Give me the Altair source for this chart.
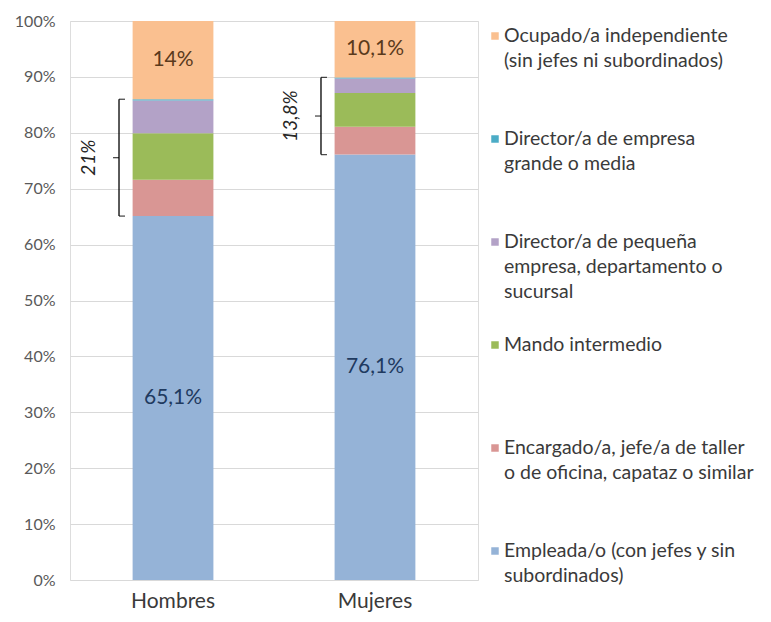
import altair as alt
import pandas as pd

FONT = "Lato"

sexos = ["Hombres", "Mujeres"]
series = [
    "Empleada/o (con jefes y sin subordinados)",
    "Encargado/a, jefe/a de taller o de oficina, capataz o similar",
    "Mando intermedio",
    "Director/a de pequeña empresa, departamento o sucursal",
    "Director/a de empresa grande o media",
    "Ocupado/a independiente (sin jefes ni subordinados)",
]
legend_text = [
    "Empleada/o (con jefes y sin\nsubordinados)",
    "Encargado/a, jefe/a de taller\no de oficina, capataz o similar",
    "Mando intermedio",
    "Director/a de pequeña\nempresa, departamento o\nsucursal",
    "Director/a de empresa\ngrande o media",
    "Ocupado/a independiente\n(sin jefes ni subordinados)",
]
colors = ["#95B3D7", "#D99694", "#9BBB59", "#B3A2C7", "#4BACC6", "#FAC090"]
label_colors = ["#1F3A5F", "#000000", "#000000", "#000000", "#000000", "#5A3A1C"]

hombres = [65.1, 6.5, 8.3, 5.9, 0.2, 14.0]
mujeres = [76.1, 5.0, 6.0, 2.6, 0.2, 10.1]
labels_h = ["65,1%", "", "", "", "", "14%"]
labels_m = ["76,1%", "", "", "", "", "10,1%"]
bracket_labels = ["21%", "13,8%"]

rows = []
brackets = []
for sexo, vals, labs, blab in zip(sexos, [hombres, mujeres], [labels_h, labels_m], bracket_labels):
    cum = 0.0
    for s, v, l, tc in zip(series, vals, labs, label_colors):
        rows.append(dict(sexo=sexo, serie=s, value=v, start=cum, end=cum + v,
                         mid=cum + v / 2, label=l, tcolor=tc))
        cum += v
    lo = vals[0]
    hi = cum - vals[-1]
    brackets.append(dict(sexo=sexo, lo=lo, hi=hi, mid=(lo + hi) / 2, label=blab))

df = pd.DataFrame(rows)
bdf = pd.DataFrame(brackets)
ends = pd.DataFrame(
    [dict(sexo=b["sexo"], val=b["lo"]) for b in brackets]
    + [dict(sexo=b["sexo"], val=b["hi"]) for b in brackets]
)
leg = pd.DataFrame(dict(serie=series, lab=legend_text))
legend_order = list(reversed(series))

color_scale = alt.Scale(domain=series, range=colors)
yscale = alt.Scale(domain=[0, 100], nice=False)
xenc = alt.X(
    "sexo:N", sort=sexos,
    scale=alt.Scale(paddingInner=0.6, paddingOuter=0.31),
    axis=alt.Axis(title=None, labelAngle=0, ticks=False, domain=False,
                  labelFontSize=21, labelColor="#3a3a3a", labelPadding=10,
                  labelFont=FONT),
)

bars = alt.Chart(df).mark_bar().encode(
    x=xenc,
    y=alt.Y("start:Q", scale=yscale,
            axis=alt.Axis(title=None, values=list(range(0, 101, 10)),
                          labelExpr="datum.value + '%'", ticks=False, domain=False,
                          grid=True, gridColor="#d9d9d9", gridWidth=1,
                          labelFontSize=16, labelColor="#595959", labelPadding=15,
                          labelFont=FONT)),
    y2="end:Q",
    color=alt.Color("serie:N", scale=color_scale, legend=None),
)

texts = alt.Chart(df).transform_filter("datum.label != ''").mark_text(
    fontSize=21, font=FONT, baseline="middle", align="center"
).encode(
    x=alt.X("sexo:N", sort=sexos),
    y=alt.Y("mid:Q", scale=yscale),
    text="label:N",
    fill=alt.Fill("tcolor:N", scale=None),
)

rule = alt.Chart(bdf).mark_rule(color="#000000", strokeWidth=1.3, xOffset=-54).encode(
    x=alt.X("sexo:N", sort=sexos),
    y=alt.Y("lo:Q", scale=yscale),
    y2="hi:Q",
)
end_ticks = alt.Chart(ends).mark_tick(
    color="#000000", thickness=1.3, size=6, xOffset=-51, orient="horizontal"
).encode(
    x=alt.X("sexo:N", sort=sexos),
    y=alt.Y("val:Q", scale=yscale),
)
mid_ticks = alt.Chart(bdf).mark_tick(
    color="#000000", thickness=1.3, size=6, xOffset=-57, orient="horizontal"
).encode(
    x=alt.X("sexo:N", sort=sexos),
    y=alt.Y("mid:Q", scale=yscale),
)
blabels = alt.Chart(bdf).mark_text(
    angle=270, fontStyle="italic", fontSize=19, font=FONT, color="#262626",
    xOffset=-84, baseline="middle", align="center"
).encode(
    x=alt.X("sexo:N", sort=sexos),
    y=alt.Y("mid:Q", scale=yscale),
    text="label:N",
)

main = alt.layer(bars, texts, rule, end_ticks, mid_ticks, blabels)

ly = alt.Y("serie:N", sort=legend_order,
           scale=alt.Scale(type="point", range=[15, 530], padding=0), axis=None)
leg_sq = alt.Chart(leg).mark_square(size=56, opacity=1).encode(
    x=alt.value(425), y=ly,
    color=alt.Color("serie:N", scale=color_scale, legend=None),
)
leg_tx = alt.Chart(leg).mark_text(
    align="left", baseline="top", lineBreak="\n", dy=-9, fontSize=19.5,
    lineHeight=25, font=FONT, color="#3a3a3a"
).encode(x=alt.value(434), y=ly, text="lab:N")
legend_layer = alt.layer(leg_sq, leg_tx)

chart = alt.layer(main, legend_layer).resolve_scale(y="independent").properties(
    width=408, height=559,
    autosize=alt.AutoSizeParams(type="none"),
    padding={"left": 62, "top": 13, "right": 285, "bottom": 33},
).configure_view(stroke=None).configure(font=FONT)

chart.save("out.html", embed_options={"renderer": "svg", "actions": False})
